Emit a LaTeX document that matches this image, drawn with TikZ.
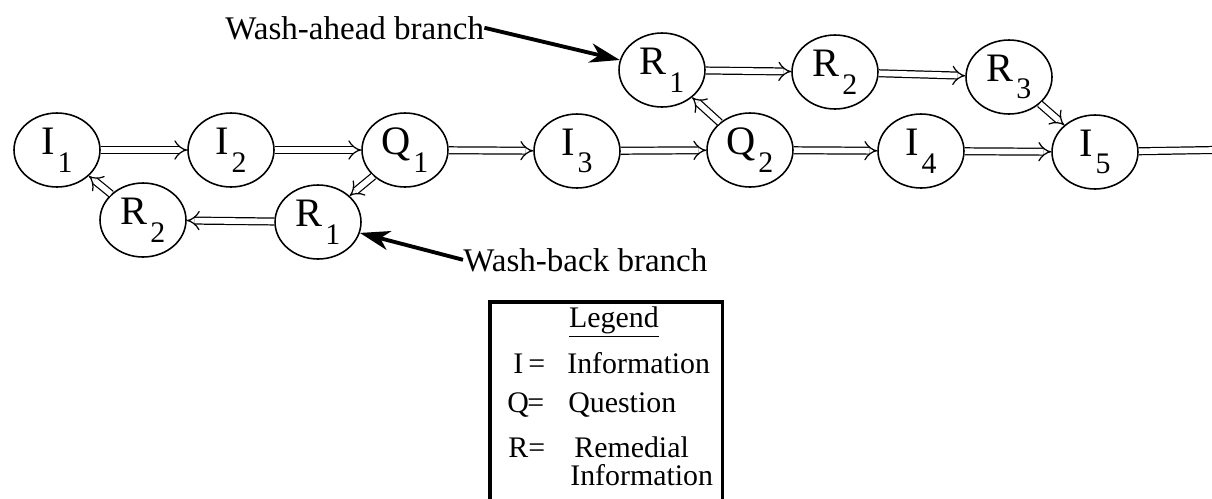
\documentclass[tikz,border=0pt]{standalone}
\usepackage{fontspec}
\setmainfont{Liberation Serif}
\usetikzlibrary{shapes.geometric,arrows.meta}
\newcommand\nlab[2]{\fontsize{23}{24}\selectfont #1\kern1.5pt\raisebox{-10pt}{\fontsize{17}{17}\selectfont #2}}
\begin{document}
\begin{tikzpicture}[x=0.02cm,y=-0.02cm,
  state/.style={ellipse, draw, line width=0.9pt, minimum width=1.72cm, minimum height=1.48cm, inner sep=0pt},
  flow/.style={double, double distance=3.2pt, line width=0.7pt, -{Implies}},
  flowline/.style={double, double distance=3.2pt, line width=0.7pt},
  pointer/.style={line width=2.2pt, -{Stealth[length=17pt,width=11pt,inset=5pt]}},
  lab/.style={font=\fontsize{18.8}{20}\selectfont, inner sep=0pt, anchor=base west},
  leg/.style={font=\fontsize{17}{18}\selectfont, inner sep=0pt, anchor=base west},
  legbox/.style={draw, line width=2pt}]
\useasboundingbox (0,0) rectangle (1212,498);
% main row
\node[state] (I1) at (57,150) {\nlab{I}{1}};
\node[state] (I2) at (231,150) {\nlab{I}{2}};
\node[state] (Q1) at (405,150) {\nlab{Q}{1}};
\node[state] (I3) at (577,151) {\nlab{I}{3}};
\node[state] (Q2) at (750,150) {\nlab{Q}{2}};
\node[state] (I4) at (921,151) {\nlab{I}{4}};
\node[state] (I5) at (1095,152) {\nlab{I}{5}};
% wash-ahead
\node[state] (R1t) at (662,70) {\nlab{R}{1}};
\node[state] (R2t) at (835,72) {\nlab{R}{2}};
\node[state] (R3t) at (1009,77) {\nlab{R}{3}};
% wash-back
\node[state] (R1b) at (318,222) {\nlab{R}{1}};
\node[state] (R2b) at (143,220) {\nlab{R}{2}};
\coordinate (rend) at (1212,150);
% connectors
\draw[flow] (I1) -- (I2);
\draw[flow] (I2) -- (Q1);
\draw[flow] (Q1) -- (I3);
\draw[flow] (I3) -- (Q2);
\draw[flow] (Q2) -- (I4);
\draw[flow] (I4) -- (I5);
\draw[flowline] (I5) -- (rend);
\draw[flow] (Q2) -- (R1t);
\draw[flow] (R1t) -- (R2t);
\draw[flow] (R2t) -- (R3t);
\draw[flow] (R3t) -- (I5);
\draw[flow] (Q1) -- (R1b);
\draw[flow] (R1b) -- (R2b);
\draw[flow] (R2b) -- (I1);
% labels
\node[lab] (wa) at (225,39) {Wash-ahead branch};
\node[lab] (wb) at (463,271) {Wash-back branch};
\draw[pointer] (wa.east) -- (R1t);
\draw[pointer] (wb.west) -- (R1b);
% legend
\node[legbox, minimum width=4.66cm, minimum height=4.3cm, anchor=north west] (box) at (488,300) {};
\node[font=\fontsize{17}{18}\selectfont, inner sep=0pt, anchor=base] (lt) at (614,327) {\underline{Legend}};
\node[leg] (s1) at (513,373) {I};
\node[leg] (e1) at (528,373) {=};
\node[leg] (w1) at (567,373) {Information};
\node[leg] (s2) at (507,412) {Q};
\node[leg] (e2) at (527,412) {=};
\node[leg] (w2) at (568,412) {Question};
\node[leg] (s3) at (508,457) {R};
\node[leg] (e3) at (528,457) {=};
\node[leg] (w3) at (574,457) {Remedial};
\node[leg] (w4) at (570,485) {Information};
\end{tikzpicture}
\end{document}
